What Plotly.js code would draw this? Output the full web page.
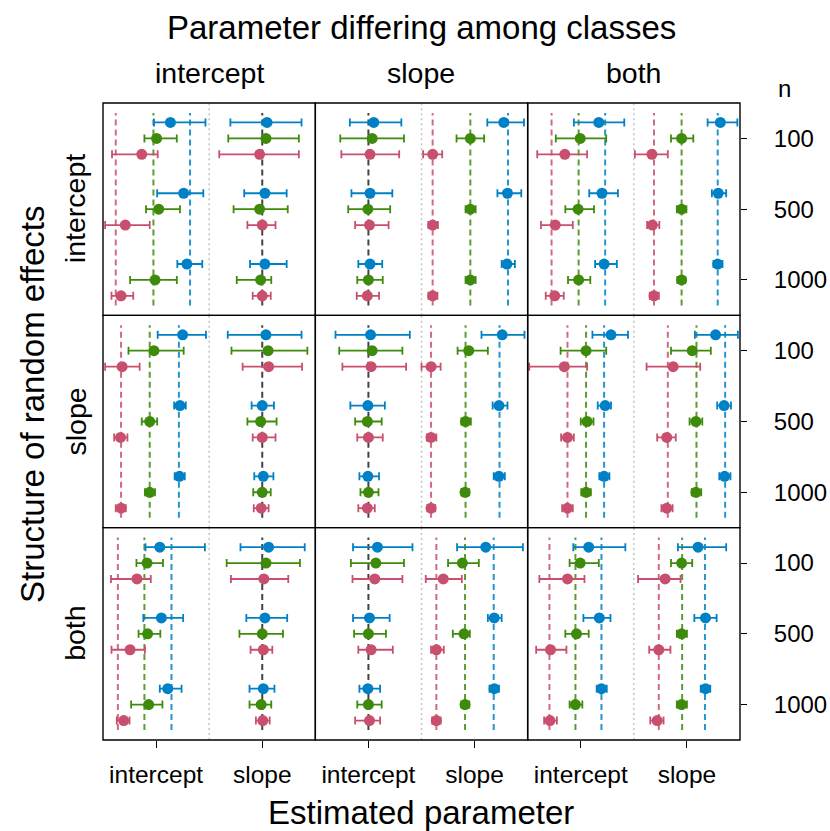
<!DOCTYPE html>
<html>
<head>
<meta charset="utf-8">
<script src="https://cdn.plot.ly/plotly-3.0.1.min.js"></script>
<style>
  html, body { margin: 0; padding: 0; background: #fff; }
  #chart { width: 830px; height: 831px; }
</style>
</head>
<body>
<div id="chart"></div>
<script>
// Facets: rows = structure of random effects, columns = parameter differing among classes
const structures = ['intercept', 'slope', 'both'];
const differing = ['intercept', 'slope', 'both'];
const params = ['intercept', 'slope'];
const sampleSizes = ['100', '500', '1000'];
const classColors = ['#0081C6', '#3E8B0C', '#C8506E'];

// Each panel: [param][n = 100, 500, 1000][class 1, 2, 3]
// Estimated-parameter scale: intercept column centred on 0, slope column centred on 2

// random intercept / intercept differs
const estII = [[[0.27, 0.01, -0.27], [0.52, 0.05, -0.58], [0.58, -0.02, -0.66]],
               [[2.09, 2.07, 1.95], [2.05, 1.95, 2.00], [2.05, 1.97, 2.00]]];
const loII  = [[[-0.04, -0.22, -0.83], [0.02, -0.19, -0.96], [0.40, -0.49, -0.84]],
               [[1.40, 1.36, 1.19], [1.66, 1.46, 1.72], [1.77, 1.52, 1.82]]];
const hiII  = [[[0.93, 0.39, 0.03], [0.89, 0.45, -0.12], [0.87, 0.39, -0.43]],
               [[2.74, 2.69, 2.69], [2.46, 2.48, 2.25], [2.46, 2.17, 2.16]]];
const trueII = [[0.64, -0.05, -0.76], [2, 2, 2]];

// random intercept / slope differs
const estIS = [[[0.10, 0.07, 0.03], [0.03, -0.01, 0.02], [0.03, 0.00, -0.02]],
               [[2.55, 1.92, 1.21], [2.62, 1.92, 1.21], [2.61, 1.92, 1.21]]];
const loIS  = [[[-0.35, -0.53, -0.51], [-0.32, -0.38, -0.25], [-0.19, -0.21, -0.22]],
               [[2.24, 1.66, 1.03], [2.43, 1.83, 1.13], [2.51, 1.83, 1.13]]];
const hiIS  = [[[0.62, 0.67, 0.58], [0.45, 0.41, 0.38], [0.26, 0.27, 0.20]],
               [[2.93, 2.18, 1.39], [2.88, 2.02, 1.31], [2.76, 2.02, 1.30]]];
const trueIS = [[0, 0, 0], [2.63, 1.92, 1.21]];

// random intercept / both differ
const estIB = [[[0.34, -0.01, -0.30], [0.40, -0.05, -0.48], [0.44, -0.04, -0.49]],
               [[2.63, 1.90, 1.34], [2.59, 1.90, 1.35], [2.58, 1.90, 1.38]]];
const loIB  = [[[-0.13, -0.47, -0.82], [0.16, -0.29, -0.75], [0.27, -0.24, -0.66]],
               [[2.39, 1.70, 1.02], [2.47, 1.81, 1.25], [2.50, 1.82, 1.30]]];
const hiIB  = [[[0.82, 0.48, 0.12], [0.70, 0.25, -0.15], [0.68, 0.18, -0.32]],
               [[2.95, 2.12, 1.64], [2.74, 1.99, 1.48], [2.67, 1.97, 1.47]]];
const trueIB = [[0.46, -0.04, -0.55], [2.58, 1.90, 1.38]];

// random slope / intercept differs
const estSI = [[[0.50, -0.04, -0.64], [0.45, -0.12, -0.67], [0.44, -0.12, -0.66]],
               [[2.07, 2.11, 2.12], [2.00, 1.97, 2.00], [2.02, 2.00, 1.98]]];
const loSI  = [[[0.03, -0.52, -0.96], [0.34, -0.27, -0.79], [0.35, -0.21, -0.76]],
               [[1.35, 1.42, 1.63], [1.80, 1.72, 1.82], [1.85, 1.83, 1.84]]];
const hiSI  = [[[0.94, 0.52, -0.31], [0.56, 0.02, -0.54], [0.54, -0.02, -0.57]],
               [[2.74, 2.85, 2.75], [2.22, 2.27, 2.25], [2.21, 2.16, 2.12]]];
const trueSI = [[0.43, -0.12, -0.66], [2, 2, 2]];

// random slope / slope differs
const estSS = [[[0.04, 0.07, 0.05], [-0.01, -0.02, 0.00], [-0.01, 0.00, -0.02]],
               [[2.52, 1.89, 1.18], [2.46, 1.83, 1.18], [2.46, 1.82, 1.18]]];
const loSS  = [[[-0.62, -0.55, -0.49], [-0.34, -0.25, -0.21], [-0.17, -0.15, -0.19]],
               [[2.13, 1.68, 1.00], [2.34, 1.75, 1.10], [2.36, 1.75, 1.11]]];
const hiSS  = [[[0.78, 0.64, 0.71], [0.31, 0.25, 0.27], [0.20, 0.19, 0.12]],
               [[2.94, 2.25, 1.36], [2.62, 1.93, 1.28], [2.57, 1.90, 1.26]]];
const trueSS = [[0, 0, 0], [2.47, 1.83, 1.18]];

// random slope / both differ
const estSB = [[[0.57, 0.10, -0.31], [0.46, 0.12, -0.25], [0.44, 0.10, -0.25]],
               [[2.54, 2.10, 1.74], [2.70, 2.17, 1.62], [2.71, 2.17, 1.62]]];
const loSB  = [[[0.22, -0.38, -0.97], [0.32, 0.00, -0.37], [0.35, 0.01, -0.35]],
               [[2.15, 1.70, 1.24], [2.57, 2.05, 1.44], [2.61, 2.09, 1.52]]];
const hiSB  = [[[0.89, 0.48, 0.12], [0.57, 0.24, -0.13], [0.54, 0.19, -0.15]],
               [[2.96, 2.45, 2.25], [2.83, 2.29, 1.79], [2.82, 2.27, 1.73]]];
const trueSB = [[0.44, 0.10, -0.25], [2.72, 2.18, 1.64]];

// random intercept and slope / intercept differs
const estBI = [[[0.07, -0.17, -0.36], [0.10, -0.16, -0.49], [0.22, -0.14, -0.61]],
               [[2.12, 2.07, 2.03], [2.05, 2.00, 2.02], [2.02, 1.98, 2.01]]];
const loBI  = [[[-0.20, -0.37, -0.85], [-0.24, -0.33, -0.84], [0.07, -0.47, -0.74]],
               [[1.59, 1.33, 1.41], [1.70, 1.57, 1.78], [1.76, 1.76, 1.88]]];
const hiBI  = [[[0.92, 0.13, -0.10], [0.51, 0.08, -0.21], [0.48, 0.12, -0.50]],
               [[2.80, 2.71, 2.49], [2.47, 2.39, 2.19], [2.23, 2.17, 2.14]]];
const trueBI = [[0.29, -0.22, -0.72], [2, 2, 2]];

// random intercept and slope / slope differs
const estBS = [[[0.17, 0.14, 0.12], [0.02, 0.00, 0.05], [-0.01, 0.00, 0.02]],
               [[2.21, 1.77, 1.41], [2.37, 1.80, 1.28], [2.37, 1.82, 1.28]]];
const loBS  = [[[-0.29, -0.33, -0.30], [-0.29, -0.27, -0.19], [-0.17, -0.21, -0.25]],
               [[1.67, 1.50, 1.08], [2.25, 1.59, 1.18], [2.28, 1.75, 1.20]]];
const hiBS  = [[[0.83, 0.67, 0.64], [0.40, 0.33, 0.46], [0.22, 0.25, 0.22]],
               [[2.91, 2.08, 1.76], [2.51, 1.91, 1.42], [2.46, 1.90, 1.36]]];
const trueBS = [[0, 0, 0], [2.36, 1.82, 1.28]];

// random intercept and slope / both differ
const estBB = [[[0.15, -0.01, -0.25], [0.35, -0.08, -0.57], [0.39, -0.10, -0.58]],
               [[2.21, 1.90, 1.59], [2.35, 1.90, 1.47], [2.35, 1.90, 1.44]]];
const loBB  = [[[-0.14, -0.21, -0.78], [0.05, -0.29, -0.84], [0.30, -0.21, -0.69]],
               [[1.83, 1.70, 1.08], [2.14, 1.81, 1.29], [2.26, 1.81, 1.31]]];
const hiBB  = [[[0.84, 0.34, 0.07], [0.56, 0.15, -0.27], [0.49, 0.03, -0.45]],
               [[2.74, 2.10, 1.88], [2.56, 2.00, 1.69], [2.44, 2.00, 1.56]]];
const trueBB = [[0.39, -0.10, -0.59], [2.34, 1.91, 1.47]];

const panels = [
  { row: 0, col: 0, est: estII, lo: loII, hi: hiII, truth: trueII },
  { row: 0, col: 1, est: estIS, lo: loIS, hi: hiIS, truth: trueIS },
  { row: 0, col: 2, est: estIB, lo: loIB, hi: hiIB, truth: trueIB },
  { row: 1, col: 0, est: estSI, lo: loSI, hi: hiSI, truth: trueSI },
  { row: 1, col: 1, est: estSS, lo: loSS, hi: hiSS, truth: trueSS },
  { row: 1, col: 2, est: estSB, lo: loSB, hi: hiSB, truth: trueSB },
  { row: 2, col: 0, est: estBI, lo: loBI, hi: hiBI, truth: trueBI },
  { row: 2, col: 1, est: estBS, lo: loBS, hi: hiBS, truth: trueBS },
  { row: 2, col: 2, est: estBB, lo: loBB, hi: hiBB, truth: trueBB }
];

// ---- geometry (pixels of the 830 x 831 page) ----
const W = 830, H = 831;
const gridL = 103, gridR = 740, gridT = 103, gridB = 740;
const cellW = (gridR - gridL) / 3, cellH = (gridB - gridT) / 3;
const nLevel = [3, 2, 1];              // y position of n = 100, 500, 1000
const classShift = [0.225, 0, -0.225]; // vertical dodge of the three classes
const FONT = 'Liberation Sans, Arial, Helvetica, sans-serif';

const traces = [];
const layout = {
  width: W, height: H,
  margin: { l: 0, r: 0, t: 0, b: 0 },
  paper_bgcolor: '#fff', plot_bgcolor: '#fff',
  showlegend: false,
  font: { family: FONT, color: '#000' },
  shapes: [], annotations: []
};

panels.forEach((p) => {
  const k = p.row * 3 + p.col + 1;
  const sfx = k === 1 ? '' : String(k);
  const xa = 'x' + sfx, ya = 'y' + sfx;
  const x0 = gridL + p.col * cellW, x1 = x0 + cellW;
  const y0 = gridT + p.row * cellH, y1 = y0 + cellH;
  const isBottom = p.row === 2, isRight = p.col === 2;

  layout['xaxis' + sfx] = {
    domain: [x0 / W, x1 / W], anchor: ya, range: [-1, 3],
    showline: false, showgrid: false, zeroline: false, fixedrange: true,
    ticks: isBottom ? 'outside' : '', ticklen: 7, tickwidth: 1, tickcolor: '#000',
    tickvals: [0, 2], ticktext: params,
    showticklabels: isBottom, ticklabelstandoff: 6,
    tickfont: { size: 24.5, family: FONT, color: '#000' }
  };
  layout['yaxis' + sfx] = {
    domain: [1 - y1 / H, 1 - y0 / H], anchor: xa, range: [0.5, 3.5], side: 'right',
    showline: false, showgrid: false, zeroline: false, fixedrange: true,
    ticks: isRight ? 'outside' : '', ticklen: 6, tickwidth: 1, tickcolor: '#000',
    tickvals: nLevel, ticktext: sampleSizes,
    showticklabels: isRight, ticklabelstandoff: 22,
    tickfont: { size: 24, family: FONT, color: '#000' }
  };

  // panel frame (shared edges coincide exactly)
  layout.shapes.push({
    type: 'rect', xref: 'paper', yref: 'paper',
    x0: x0 / W, x1: x1 / W, y0: 1 - y1 / H, y1: 1 - y0 / H,
    line: { color: '#000', width: 1.4 }, fillcolor: 'rgba(0,0,0,0)', layer: 'above'
  });

  // dotted divider between the two estimated parameters
  layout.shapes.push({
    type: 'line', xref: xa, yref: ya + ' domain', x0: 1, x1: 1, y0: 0, y1: 1,
    line: { color: '#c4c4c4', width: 1.5, dash: '2px,3px' }, layer: 'below'
  });

  // true values as dashed reference lines (black when shared by all classes)
  p.truth.forEach((vals) => {
    const shared = vals.every(v => v === vals[0]);
    const list = shared ? [[vals[0], '#222222']] : vals.map((v, i) => [v, classColors[i]]);
    list.forEach(([v, c]) => {
      traces.push({
        type: 'scatter', mode: 'lines', xaxis: xa, yaxis: ya,
        x: [v, v], y: [0.64, 3.36], hoverinfo: 'skip',
        line: { color: c, width: 2, dash: '6px,4px' }, opacity: 0.85
      });
    });
  });

  // estimates with interval bars, one trace per class
  classColors.forEach((color, i) => {
    const xs = [], ys = [], up = [], dn = [];
    params.forEach((_, j) => {
      sampleSizes.forEach((__, m) => {
        const e = p.est[j][m][i];
        xs.push(e);
        ys.push(nLevel[m] + classShift[i]);
        up.push(p.hi[j][m][i] - e);
        dn.push(e - p.lo[j][m][i]);
      });
    });
    traces.push({
      type: 'scatter', mode: 'markers', xaxis: xa, yaxis: ya,
      x: xs, y: ys, hoverinfo: 'x',
      marker: { color: color, size: 11 },
      error_x: { type: 'data', symmetric: false, array: up, arrayminus: dn,
                 color: color, thickness: 1.8, width: 4 }
    });
  });
});

// ---- text ----
function note(text, px, py, size, angle) {
  layout.annotations.push({
    text: text, xref: 'paper', yref: 'paper', x: px / W, y: 1 - py / H,
    xanchor: 'center', yanchor: 'middle', showarrow: false,
    textangle: angle || 0, font: { size: size, family: FONT, color: '#000' }
  });
}
note('Parameter differing among classes', (gridL + gridR) / 2, 27, 33);
differing.forEach((d, c) => note(d, gridL + (c + 0.5) * cellW, 73, 28.5));
structures.forEach((s, r) => note(s, 75, gridT + (r + 0.5) * cellH, 28.5, -90));
note('Structure of random effects', 32, 405, 33, -90);
note('Estimated parameter', (gridL + gridR) / 2, 812, 33);
note('n', 784, 88, 24);

Plotly.newPlot('chart', traces, layout, { staticPlot: true });
</script>
</body>
</html>
